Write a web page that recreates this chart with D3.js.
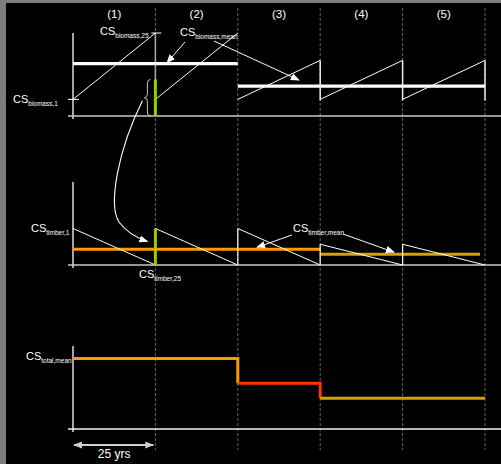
<!DOCTYPE html>
<html>
<head>
<meta charset="utf-8">
<script src="https://cdn.jsdelivr.net/npm/d3@7"></script>
<style>
  html, body { margin: 0; padding: 0; background: #7d7d7d; }
  svg { display: block; }
  text { font-family: "Liberation Sans", Arial, sans-serif; fill: #fff; }
</style>
</head>
<body>
<svg id="chart" width="501" height="464"></svg>
<script>
// Rotation periods and carbon stock values (arbitrary units, same scale in every panel)
const periods = ["(1)", "(2)", "(3)", "(4)", "(5)"];
const rotationYears = 25;
const biomassStart = [20, 20, 20, 20, 20];     // CS biomass at year 1 of each rotation
const biomassEnd = [100, 100, 67, 67, 67];     // CS biomass at year 25
const biomassMean = [63, 63, 36, 36, 36];      // CS biomass, mean over rotation
const timberStart = [44, 44, 44, 25, 25];      // CS timber at start of each rotation
const timberMean = [19, 19, 19, 13, 13];       // CS timber, mean over rotation
const totalMean = [85, 85, 55, 37, 37];        // CS total, mean
const harvestTransfer = 44;                    // biomass moved to timber at year 25
const totalColors = ["#ff9900", "#ff9900", "#ff3300", "#d4a00c", "#d4a00c"];
const timberMeanColors = ["#ff9900", "#ff9900", "#ff9900", "#d4a00c", "#d4a00c"];

const svg = d3.select("#chart");
svg.append("rect").attr("x", 6).attr("y", 3).attr("width", 495).attr("height", 461).attr("fill", "#000");

const x = d3.scaleLinear().domain([0, periods.length * rotationYears]).range([73, 485]);
const yBio = d3.scaleLinear().domain([0, 100]).range([116, 33]);
const yTim = d3.scaleLinear().domain([0, 100]).range([265, 182]);
const yTot = d3.scaleLinear().domain([0, 100]).range([429, 346]);

const defs = svg.append("defs");
defs.append("marker").attr("id", "arrow").attr("viewBox", "0 0 10 10")
  .attr("refX", 9).attr("refY", 5).attr("markerWidth", 9).attr("markerHeight", 9)
  .attr("markerUnits", "userSpaceOnUse").attr("orient", "auto-start-reverse")
  .append("path").attr("d", "M0,1 L10,5 L0,9 Z").attr("fill", "#fff");
defs.append("marker").attr("id", "arrowGray").attr("viewBox", "0 0 10 10")
  .attr("refX", 9).attr("refY", 5).attr("markerWidth", 9).attr("markerHeight", 9)
  .attr("markerUnits", "userSpaceOnUse").attr("orient", "auto-start-reverse")
  .append("path").attr("d", "M0,1 L10,5 L0,9 Z").attr("fill", "#cfcfcf");

const line = d3.line().x(d => x(d[0]));

// merge neighbouring rotations that share the same value into one segment
function segments(values, colors) {
  const segs = [];
  values.forEach((v, i) => {
    const last = segs[segs.length - 1];
    if (last && last.v === v) last.end = (i + 1) * rotationYears;
    else segs.push({ v, start: i * rotationYears, end: (i + 1) * rotationYears, color: colors ? colors[i] : "#fff" });
  });
  return segs;
}

// Rotation boundaries
svg.append("g").selectAll("line").data(periods).join("line")
  .attr("x1", (d, i) => x((i + 1) * rotationYears)).attr("x2", (d, i) => x((i + 1) * rotationYears))
  .attr("y1", 8).attr("y2", 450)
  .attr("stroke", "#666").attr("stroke-width", 1).attr("stroke-dasharray", "3,2");

// Period labels
svg.append("g").selectAll("text").data(periods).join("text")
  .attr("x", (d, i) => x(i * rotationYears + rotationYears / 2)).attr("y", 18)
  .attr("text-anchor", "middle").attr("font-size", 11.5).text(d => d);

// Axes frames
function frame(yScale, top, color) {
  svg.append("line").attr("x1", x(0)).attr("x2", x(0))
    .attr("y1", top).attr("y2", yScale(0) + 3).attr("stroke", "#fff").attr("stroke-width", 1.3);
  svg.append("line").attr("x1", x(0) - 5).attr("x2", 501)
    .attr("y1", yScale(0)).attr("y2", yScale(0)).attr("stroke", color).attr("stroke-width", 1.6);
}
frame(yBio, yBio(100), "#c9c9c9");
frame(yTim, yTim(100), "#c9c9c9");
frame(yTot, yTot(100), "#f2f2f2");

// ---- Biomass panel ----
const gB = svg.append("g");
// harvest drop at end of first rotation
gB.append("line").attr("x1", x(25)).attr("x2", x(25)).attr("y1", yBio(100)).attr("y2", yBio(0))
  .attr("stroke", "#a8a8a8").attr("stroke-width", 1.5);
// mean lines
gB.selectAll("path.mean").data(segments(biomassMean)).join("path").attr("class", "mean")
  .attr("d", s => line.y(d => yBio(d[1]))([[s.start, s.v], [s.end, s.v]]))
  .attr("stroke", "#fff").attr("stroke-width", 3.2).attr("fill", "none");
// growth lines
gB.selectAll("path.grow").data(periods).join("path").attr("class", "grow")
  .attr("d", (d, i) => line.y(p => yBio(p[1]))([[i * rotationYears, biomassStart[i]], [(i + 1) * rotationYears, biomassEnd[i]]]))
  .attr("stroke", "#fff").attr("stroke-width", 1).attr("fill", "none");
// drops at the end of later rotations
gB.selectAll("line.drop").data(periods.slice(2)).join("line").attr("class", "drop")
  .attr("x1", (d, j) => x((j + 3) * rotationYears)).attr("x2", (d, j) => x((j + 3) * rotationYears))
  .attr("y1", (d, j) => yBio(biomassEnd[j + 2])).attr("y2", (d, j) => yBio(biomassStart[j + 2]) + 1)
  .attr("stroke", "#eee").attr("stroke-width", 1.5);
// ticks
gB.append("line").attr("x1", x(0) - 5).attr("x2", x(0) + 6).attr("y1", yBio(biomassStart[0])).attr("y2", yBio(biomassStart[0]))
  .attr("stroke", "#fff").attr("stroke-width", 1);
gB.append("line").attr("x1", x(25) - 4).attr("x2", x(25) + 6).attr("y1", yBio(biomassEnd[0])).attr("y2", yBio(biomassEnd[0]))
  .attr("stroke", "#fff").attr("stroke-width", 1);
// harvested part
gB.append("line").attr("x1", x(25)).attr("x2", x(25)).attr("y1", yBio(harvestTransfer)).attr("y2", yBio(0))
  .attr("stroke", "#99cc00").attr("stroke-width", 3);
// brace
const bx = x(25) - 8, bt = yBio(harvestTransfer), bb = yBio(0), bm = (bt + bb) / 2;
gB.append("path")
  .attr("d", `M${bx + 3},${bt} Q${bx},${bt} ${bx},${bt + 4} L${bx},${bm - 4} Q${bx},${bm} ${bx - 3},${bm} Q${bx},${bm} ${bx},${bm + 4} L${bx},${bb - 4} Q${bx},${bb} ${bx + 3},${bb}`)
  .attr("stroke", "#ddd").attr("stroke-width", 0.9).attr("fill", "none");

// ---- Timber panel ----
const gT = svg.append("g");
const timSegs = segments(timberMean, timberMeanColors);
gT.selectAll("path.mean").data(timSegs).join("path").attr("class", "mean")
  .attr("d", (s, k) => line.y(d => yTim(d[1]))([[s.start, s.v], [k === timSegs.length - 1 ? s.end - 1.5 : s.end, s.v]]))
  .attr("stroke", s => s.color).attr("stroke-width", 3).attr("fill", "none");
gT.selectAll("path.decay").data(periods).join("path").attr("class", "decay")
  .attr("d", (d, i) => line.y(p => yTim(p[1]))([[i * rotationYears, timberStart[i]], [(i + 1) * rotationYears, 0]]))
  .attr("stroke", "#fff").attr("stroke-width", 1).attr("fill", "none");
gT.selectAll("line.rise").data(periods.slice(2)).join("line").attr("class", "rise")
  .attr("x1", (d, j) => x((j + 2) * rotationYears)).attr("x2", (d, j) => x((j + 2) * rotationYears))
  .attr("y1", yTim(0)).attr("y2", (d, j) => yTim(timberStart[j + 2]))
  .attr("stroke", "#eee").attr("stroke-width", 1.3);
gT.append("line").attr("x1", x(25)).attr("x2", x(25)).attr("y1", yTim(harvestTransfer)).attr("y2", yTim(0))
  .attr("stroke", "#99cc00").attr("stroke-width", 3);

// ---- Total panel ----
const gS = svg.append("g");
const totSegs = segments(totalMean, totalColors);
gS.selectAll("path.step").data(totSegs).join("path").attr("class", "step")
  .attr("d", (s, k) => {
    const pts = [[s.start, s.v], [s.end, s.v]];
    if (k < totSegs.length - 1) pts.push([s.end, totSegs[k + 1].v]);
    return line.y(d => yTot(d[1]))(pts);
  })
  .attr("stroke", s => s.color).attr("stroke-width", 3).attr("fill", "none")
  .attr("stroke-linejoin", "miter");

// ---- Labels ----
function csLabel(xPos, yPos, sub) {
  const t = svg.append("text").attr("x", xPos).attr("y", yPos).attr("font-size", 11);
  t.append("tspan").text("CS");
  t.append("tspan").attr("font-size", 6.5).attr("dy", 3).text(sub);
}
csLabel(100, 35, "biomass,25");
csLabel(13, 103, "biomass,1");
csLabel(180, 36, "biomass,mean");
csLabel(31, 232, "timber,1");
csLabel(139, 278, "timber,25");
csLabel(293, 232, "timber,mean");
csLabel(26, 360, "total,mean");

// ---- Annotation arrows ----
const ann = svg.append("g").attr("stroke", "#fff").attr("stroke-width", 1).attr("fill", "none");
ann.append("line").attr("x1", 185).attr("y1", 42).attr("x2", 167).attr("y2", yBio(biomassMean[0]) - 1).attr("marker-end", "url(#arrow)");
ann.append("line").attr("x1", 214).attr("y1", 41).attr("x2", 299).attr("y2", yBio(biomassMean[2]) - 6).attr("marker-end", "url(#arrow)");
ann.append("line").attr("x1", 292).attr("y1", 235).attr("x2", 257).attr("y2", yTim(timberMean[0]) - 2).attr("marker-end", "url(#arrow)");
ann.append("line").attr("x1", 343).attr("y1", 234).attr("x2", 394).attr("y2", yTim(timberMean[3]) - 2).attr("marker-end", "url(#arrow)");
ann.append("path")
  .attr("d", `M${bx - 5},${bm + 3} C 118,150 108,205 119,222 C 127,233 137,238 ${x(25) - 8},${yTim(timberStart[0]) + 13}`)
  .attr("stroke-width", 1.1).attr("marker-end", "url(#arrow)");

// ---- 25 yrs span ----
svg.append("line").attr("x1", x(0) + 1).attr("x2", x(rotationYears) - 2).attr("y1", 445).attr("y2", 445)
  .attr("stroke", "#cfcfcf").attr("stroke-width", 2)
  .attr("marker-start", "url(#arrowGray)").attr("marker-end", "url(#arrowGray)");
svg.append("text").attr("x", x(rotationYears / 2)).attr("y", 458).attr("text-anchor", "middle")
  .attr("font-size", 12).text("25 yrs");
</script>
</body>
</html>
